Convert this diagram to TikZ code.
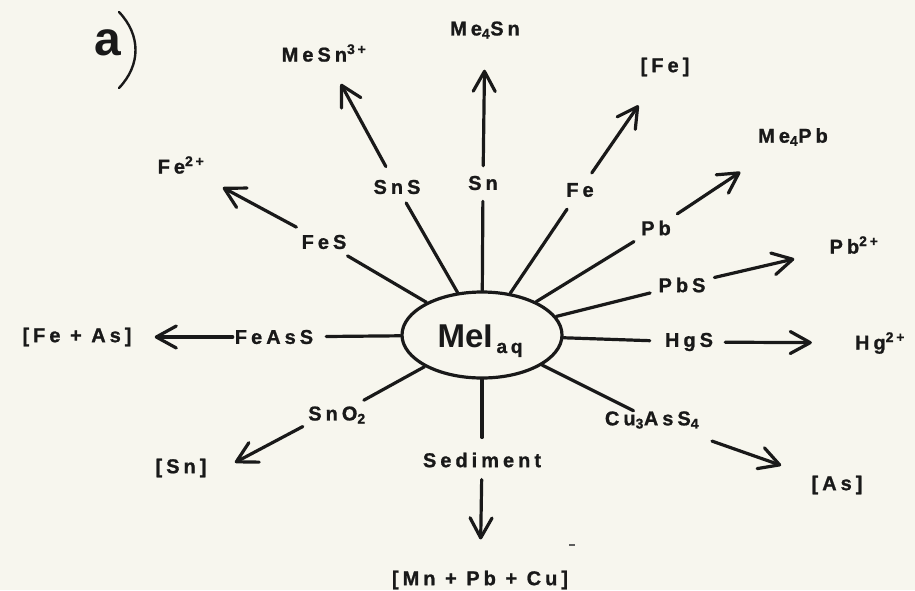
\documentclass[tikz,border=0pt]{standalone}
\usepackage{fontspec}
\setmainfont{Liberation Sans}
\newfontfamily\labfont{Liberation Sans}[LetterSpace=20,FakeBold=1]
\usetikzlibrary{arrows.meta,shapes.geometric}
\definecolor{paper}{RGB}{247,246,238}
\definecolor{ink}{RGB}{25,25,25}
\begin{document}
\begin{tikzpicture}[x=1pt,y=-1pt,
  lab/.style={inner sep=0pt, font=\labfont\bfseries\fontsize{20}{20}\selectfont, text=ink},
  spoke/.style={draw=ink, line width=3.2pt, line cap=round},
  arr/.style={draw=ink, line width=3.2pt, line cap=round, -{Straight Barb[length=20pt,width=22pt,round]}}
]
\fill[paper] (0,0) rectangle (915,590);
\useasboundingbox (0,0) rectangle (915,590);

% panel label
\node[inner sep=0pt, text=ink, font=\bfseries\fontsize{48}{48}\selectfont] (pa) at (108,43) {a};
\draw[ink, line width=2.4pt, line cap=round] (119,12) .. controls (141,35) and (141,65) .. (119,88);

% centre
\node[ellipse, draw=ink, line width=3.2pt, minimum width=160pt, minimum height=86pt, inner sep=0pt] (E) at (482,335) {};
\node[anchor=base, inner sep=0pt, text=ink] (mei) at (480,347) {\bfseries\fontsize{33}{33}\selectfont MeI\hspace{4pt}\raisebox{-6pt}{\labfont\bfseries\fontsize{19}{19}\selectfont aq}};

% intermediate labels
\node[lab] (sn)    at (483,183) {Sn};
\node[lab] (sns)   at (397,187) {SnS};
\node[lab] (fe)    at (580,190) {Fe};
\node[lab] (pb)    at (656,228) {Pb};
\node[lab] (pbs)   at (682,285) {PbS};
\node[lab] (hgs)   at (689,342) {HgS};
\node[lab] (cu)    at (652,420) {Cu\textsubscript{3}AsS\textsubscript{4}};
\node[lab] (sed)   at (482,460) {Sediment};
\node[lab] (sno)   at (337,415) {SnO\textsubscript{2}};
\node[lab] (feass) at (274,337) {FeAsS};
\node[lab] (fes)   at (324,242) {FeS};

% products
\node[lab] (me4sn) at (485,30)  {Me\textsubscript{4}Sn};
\node[lab] (mesn)  at (324,53)  {MeSn\textsuperscript{3+}};
\node[lab] (fe3)   at (665,67)  {[Fe]};
\node[lab] (me4pb) at (793,137) {Me\textsubscript{4}Pb};
\node[lab] (fe2)   at (181,165) {Fe\textsuperscript{2+}};
\node[lab] (pb2)   at (854,245) {Pb\textsuperscript{2+}};
\node[lab] (hg2)   at (880,343) {Hg\textsuperscript{2+}};
\node[lab] (feas)  at (77,337)  {[Fe + As]};
\node[lab] (as)    at (837,485) {[As]};
\node[lab] (snb)   at (181,468) {[Sn]};
\node[lab] (mn)    at (480,580) {[Mn + Pb + Cu]};

% spokes
\draw[spoke, shorten >=11pt]   (E) -- (sn);
\draw[spoke, shorten >=10pt]   (E) -- (sns);
\draw[spoke, shorten >=14.5pt] (E) -- (fe);
\draw[spoke, shorten >=11.5pt] (E) -- (pb);
\draw[spoke, shorten >=8.5pt]  (E) -- (pbs);
\draw[spoke, shorten >=15pt]   (E) -- (hgs);
\draw[spoke, shorten >=1pt]    (E) -- (cu);
\draw[spoke, shorten >=15pt]   (E) -- (sed);
\draw[spoke, shorten >=12.6pt] (E) -- (sno);
\draw[spoke, shorten >=13pt]   (E) -- (feass);
\draw[spoke, shorten >=13pt]   (E) -- (fes);

% arrows
\draw[arr, shorten <=10pt, shorten >=31pt] (sn) -- (me4sn);
\draw[arr, shorten <=15pt, shorten >=25pt] (sns) -- (mesn);
\draw[arr, shorten <=12pt, shorten >=35pt] (fe) -- (fe3);
\draw[arr, shorten <=12pt, shorten >=47pt] (pb) -- (me4pb);
\draw[arr, shorten <=9pt, shorten >=36pt]  (pbs) -- (pb2);
\draw[arr, shorten <=12pt, shorten >=43pt] (hgs) -- (hg2);
\draw[arr, shorten <=37pt, shorten >=32pt] (cu) -- (as);
\draw[arr, shorten <=12pt, shorten >=31pt] (sed) -- (mn);
\draw[arr, shorten <=6pt, shorten >=32pt]  (sno.south west) -- (snb.south east);
\draw[arr, shorten <=2pt, shorten >=23pt]  (feass) -- (feas);
\draw[arr, shorten <=16pt, shorten >=28.6pt] (fes) -- (fe2);

% stray mark
\draw[ink!70, line width=1.5pt] (569,545) -- (575,545);
\end{tikzpicture}
\end{document}
